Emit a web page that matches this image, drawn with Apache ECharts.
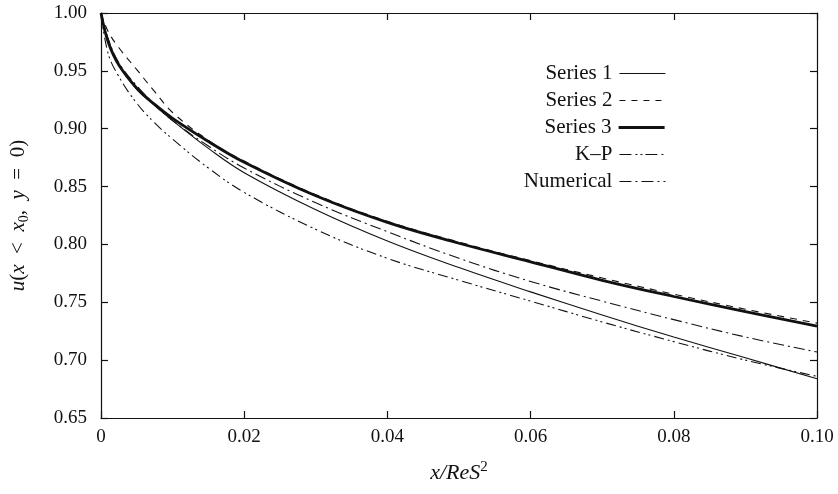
<!DOCTYPE html>
<html>
<head>
<meta charset="utf-8">
<script src="https://cdn.jsdelivr.net/npm/echarts@6/dist/echarts.min.js"></script>
<style>html,body{margin:0;padding:0;background:#fff;}#c{width:838px;height:494px;}</style>
</head>
<body>
<div id="c"></div>
<script>
const xs = [0, 0.001, 0.0025, 0.005, 0.0075, 0.01, 0.015, 0.02, 0.03, 0.04, 0.05, 0.06, 0.07, 0.08, 0.09, 0.10];
const series1 = [1.0, 0.977, 0.955, 0.934, 0.920, 0.907, 0.883, 0.862, 0.830, 0.803, 0.780, 0.759, 0.739, 0.720, 0.702, 0.684];
const series2 = [1.0, 0.984, 0.970, 0.951, 0.932, 0.914, 0.890, 0.872, 0.843, 0.820, 0.802, 0.786, 0.771, 0.757, 0.744, 0.732];
const series3 = [1.0, 0.975, 0.955, 0.935, 0.921, 0.909, 0.889, 0.871, 0.842, 0.819, 0.801, 0.785, 0.769, 0.755, 0.742, 0.7295];
const kp = [1.0, 0.965, 0.945, 0.922, 0.905, 0.891, 0.866, 0.845, 0.813, 0.788, 0.769, 0.751, 0.733, 0.716, 0.700, 0.686];
const numerical = [1.0, 0.978, 0.957, 0.937, 0.921, 0.907, 0.885, 0.866, 0.836, 0.811, 0.788, 0.768, 0.751, 0.735, 0.720, 0.707];
const seriesNames = ['Series 1', 'Series 2', 'Series 3', 'K\u2013P', 'Numerical'];
const xTickValues = [0, 0.02, 0.04, 0.06, 0.08, 0.10];
const xTickLabels = ['0', '0.02', '0.04', '0.06', '0.08', '0.10'];
const yTickValues = [0.65, 0.70, 0.75, 0.80, 0.85, 0.90, 0.95, 1.00];
const yTickLabels = ['0.65', '0.70', '0.75', '0.80', '0.85', '0.90', '0.95', '1.00'];

const FONT = '"Liberation Serif", "DejaVu Serif", serif';
const C = '#111';
function pairs(arr){ return xs.map((x,i)=>[x, arr[i]]); }
function lookup(vals, labels, v){
  for (let i=0;i<vals.length;i++){ if (Math.abs(vals[i]-v) < 1e-9) return labels[i]; }
  return '';
}
const styles = [
  {width:1.1, type:'solid'},
  {width:1.1, type:[7,6]},
  {width:2.8, type:'solid'},
  {width:1.1, type:[10,4,2,3,2,4]},
  {width:1.1, type:[11,4,2,4]}
];
const legendDash = ['solid', [6,6], 'solid', [12,4,2,3,2,3], [12,4,2,4]];
const datas = [series1, series2, series3, kp, numerical];
const legendTops = [63, 90, 117, 144, 171];

const chart = echarts.init(document.getElementById('c'), null, {renderer:'canvas'});
const axisCommon = {
  axisLine:{show:true, onZero:false, lineStyle:{color:C, width:1.2}},
  axisTick:{show:true, inside:true, length:7, lineStyle:{color:C, width:1.2}},
  splitLine:{show:false}
};
chart.setOption({
  animation:false,
  backgroundColor:'#fff',
  grid:{left:101, right:21, top:13, bottom:76, containLabel:false},
  legend: seriesNames.map((n,i)=>({
    data:[n], right:172, top:legendTops[i], orient:'vertical', align:'right',
    itemWidth:46, itemHeight:14, padding:0, itemGap:0,
    itemStyle:{opacity:0},
    lineStyle:{color:C, width:styles[i].width, type:legendDash[i], opacity:1},
    textStyle:{fontFamily:FONT, fontSize:21, color:C, padding:[0,2,0,0]}
  })),
  xAxis:[
    Object.assign({type:'value', min:0, max:0.1, interval:0.02, position:'bottom',
      name:'{i|x/ReS}{sup|2}', nameLocation:'middle', nameGap:42,
      nameTextStyle:{fontFamily:FONT, fontSize:22, color:C, rich:{
        i:{fontFamily:FONT, fontSize:22, fontStyle:'italic', color:C, lineHeight:26},
        sup:{fontFamily:FONT, fontSize:15, color:C, verticalAlign:'top', lineHeight:15}
      }},
      axisLabel:{fontFamily:FONT, fontSize:19, color:C, margin:10,
        formatter:v=>lookup(xTickValues, xTickLabels, v)}
    }, axisCommon),
    Object.assign({type:'value', min:0, max:0.1, interval:0.02, position:'top',
      axisLabel:{show:false}}, axisCommon)
  ],
  yAxis:[
    Object.assign({type:'value', min:0.65, max:1.0, interval:0.05, position:'left',
      name:'{i|u}({i|x}\u2002<\u2002{i|x}{sub|0},\u2002{i|y}\u2002=\u20020)', nameLocation:'middle', nameGap:70, nameRotate:90,
      nameTextStyle:{fontFamily:FONT, fontSize:21, color:C, rich:{
        i:{fontFamily:FONT, fontSize:21, fontStyle:'italic', color:C, lineHeight:25},
        sub:{fontFamily:FONT, fontSize:14, color:C, verticalAlign:'bottom', lineHeight:10}
      }},
      axisLabel:{fontFamily:FONT, fontSize:19, color:C, margin:14,
        formatter:v=>lookup(yTickValues, yTickLabels, v)}
    }, axisCommon),
    Object.assign({type:'value', min:0.65, max:1.0, interval:0.05, position:'right',
      axisLabel:{show:false}}, axisCommon)
  ],
  series: seriesNames.map((n,i)=>({
    name:n, type:'line', data:pairs(datas[i]), smooth:0.4, symbol:'none',
    lineStyle:{color:C, width:styles[i].width, type:styles[i].type},
    itemStyle:{color:C},
    z: i===2 ? 3 : 2
  }))
});
</script>
</body>
</html>
